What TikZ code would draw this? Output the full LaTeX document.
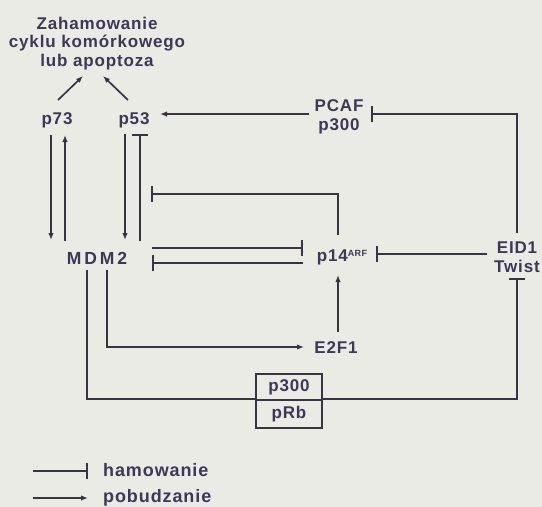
\documentclass[tikz,border=0pt]{standalone}
\usepackage{fontspec}
\setmainfont{Liberation Sans}
\newfontfamily\lbl[LetterSpace=5]{Liberation Sans}
\newfontfamily\wide[LetterSpace=17]{Liberation Sans}
\usetikzlibrary{arrows.meta}
\definecolor{bg}{RGB}{235,235,230}
\definecolor{ink}{RGB}{58,52,66}
\definecolor{txt}{RGB}{62,55,86}
\begin{document}
\begin{tikzpicture}[x=1pt,y=-1pt,
  lab/.style={font=\lbl\bfseries\fontsize{17}{19}\selectfont, text=txt, inner sep=0pt, align=center},
  ln/.style={draw=ink, line width=1.7pt},
  act/.style={ln, -{Latex[length=7pt,width=5.5pt]}},
  inh/.style={ln, -{Bar[width=16pt]}},
  boxnode/.style={draw=ink, line width=1.7pt, fill=bg, minimum width=66pt, inner sep=0pt,
    font=\lbl\bfseries\fontsize{17}{19}\selectfont, text=txt},
  legtxt/.style={font=\lbl\bfseries\fontsize{18}{20}\selectfont, text=txt, inner sep=0pt, anchor=base west}]
\fill[bg] (0,0) rectangle (542,507);
\useasboundingbox (0,0) rectangle (542,507);
% nodes
\node[lab, font=\lbl\bfseries\fontsize{17}{18.5}\selectfont] (title) at (97,43.5) {Zahamowanie\\cyklu komórkowego\\lub apoptoza};
\node[lab, anchor=base] (p73) at (57,124) {p73};
\node[lab, anchor=base] (p53) at (134,124) {p53};
\node[lab] (pcaf) at (339,116.5) {PCAF\\p300};
\node[lab, anchor=base, font=\wide\bfseries\fontsize{17.5}{19}\selectfont] (mdm2) at (97,264) {MDM2};
\node[lab, anchor=base] (p14) at (342,261) {p14\raisebox{5pt}{\fontsize{9}{9}\selectfont ARF}};
\node[lab] (eid1) at (517,257.5) {EID1\\Twist};
\node[lab, anchor=base] (e2f1) at (336,353) {E2F1};
\node[boxnode, minimum height=26pt] (p300) at (289,387) {p300};
\node[boxnode, minimum height=28pt] (prb) at (289,414) {pRb};
\node[legtxt] (ham) at (103,476) {hamowanie};
\node[legtxt] (pob) at (103,502) {pobudzanie};
% outer and inner loops (drawn first, boxes on top)
\draw[inh] ([shift={(-10,6)}]mdm2.base) |- (prb.north) -| ([shift={(0,20.5)}]eid1.center);
\node[boxnode, minimum height=26pt] at (p300) {p300};
\node[boxnode, minimum height=28pt] at (prb) {pRb};
\draw[act] ([shift={(10,6)}]mdm2.base) |- ([shift={(-32,-6)}]e2f1.base);
% to title
\draw[act] ([shift={(1,-24)}]p73.base) -- ([shift={(-14,32.5)}]title.center);
\draw[act] ([shift={(-6,-24)}]p53.base) -- ([shift={(6,32.5)}]title.center);
% p73 <-> MDM2
\draw[act] ([shift={(-6,11)}]p73.base) -- ([shift={(-46,-24)}]mdm2.base);
\draw[act] ([shift={(-32,-23)}]mdm2.base) -- ([shift={(8,11)}]p73.base);
% p53 <-> MDM2
\draw[act] ([shift={(-9,10)}]p53.base) -- ([shift={(28,-24)}]mdm2.base);
\draw[inh] ([shift={(43,-23)}]mdm2.base) -- ([shift={(6,10)}]p53.base);
% PCAF -> p53
\draw[act] ([shift={(-30,-2.5)}]pcaf.center) -- ([shift={(26,-10)}]p53.base);
% EID1 -| PCAF
\draw[inh] ([shift={(0,-24.5)}]eid1.center) |- ([shift={(32,-2.5)}]pcaf.center);
% p14 -| p53/MDM2
\draw[inh] ([shift={(-4,-26)}]p14.base) |- ([shift={(17,70)}]p53.base);
% MDM2 -| p14, p14 -| MDM2
\draw[inh] ([shift={(55,-16)}]mdm2.base) -- ([shift={(-39,-13)}]p14.base);
\draw[inh] ([shift={(-39,2)}]p14.base) -- ([shift={(55,-1)}]mdm2.base);
% EID1 -| p14
\draw[inh] ([shift={(-30,-3.5)}]eid1.center) -- ([shift={(34,-7)}]p14.base);
% E2F1 -> p14
\draw[act] ([shift={(2,-21)}]e2f1.base) -- ([shift={(-4,14)}]p14.base);
% legend
\draw[inh] ([shift={(-70,-5)}]ham.base west) -- ([shift={(-15,-5)}]ham.base west);
\draw[act] ([shift={(-70,-4)}]pob.base west) -- ([shift={(-15,-4)}]pob.base west);
\end{tikzpicture}
\end{document}
